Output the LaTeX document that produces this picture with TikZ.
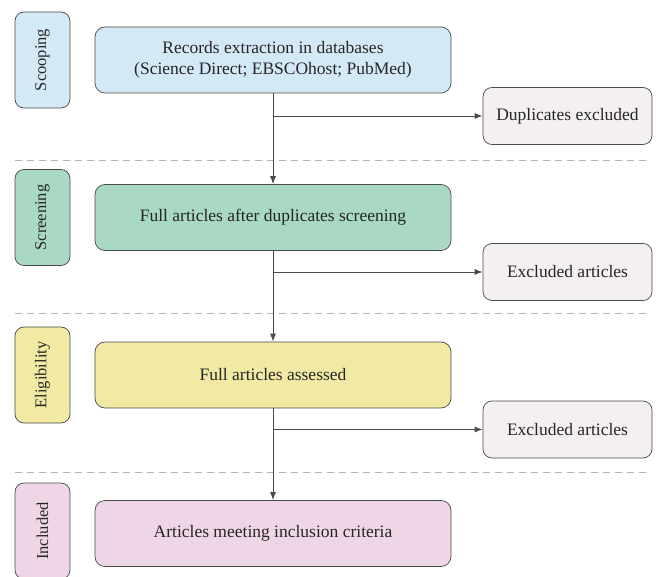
\documentclass[tikz,border=0pt]{standalone}
\usepackage{fontspec}
\setmainfont{Liberation Serif}
\usetikzlibrary{arrows.meta}
\definecolor{cblue}{HTML}{D4E9F6}
\definecolor{cgreen}{HTML}{A9D8C3}
\definecolor{cyellow}{HTML}{F1E9A4}
\definecolor{cpink}{HTML}{EFD6E6}
\definecolor{cgray}{HTML}{F3F0EF}
\definecolor{cline}{HTML}{4A4A4A}
\definecolor{cdash}{HTML}{B5B5B5}
\tikzset{
  mainbox/.style={draw=cline, line width=0.7pt, rounded corners=10pt, minimum width=356pt, minimum height=66pt, align=center, font=\fontsize{17.5}{21}\selectfont, text=black!85},
  sidebox/.style={draw=cline, line width=0.7pt, rounded corners=9pt, minimum width=55pt, minimum height=96pt},
  sidetext/.style={rotate=90, font=\fontsize{16.5}{19}\selectfont, text=black!85},
  exbox/.style={draw=cline, line width=0.7pt, rounded corners=9pt, fill=cgray, minimum width=169pt, minimum height=57pt, font=\fontsize{17.5}{21}\selectfont, text=black!85},
  conn/.style={draw=cline, line width=0.9pt},
  arr/.style={conn, -{Latex[length=8pt,width=6pt]}},
  sep/.style={draw=cdash, line width=0.8pt, dash pattern=on 7pt off 5pt}
}
\begin{document}
\begin{tikzpicture}[x=1pt,y=-1pt]
\useasboundingbox[fill=white] (0,0) rectangle (656,577);
% separators
\draw[sep] (15,160) -- (648,160);
\draw[sep] (15,313) -- (648,313);
\draw[sep] (15,472) -- (648,472);
% side labels
\node[sidebox, fill=cblue] (s1) at (42.5,60) {};
\node[sidetext] at (s1.center) {Scooping};
\node[sidebox, fill=cgreen] (s2) at (42.5,217.5) {};
\node[sidetext] at (s2.center) {Screening};
\node[sidebox, fill=cyellow] (s3) at (42.5,375) {};
\node[sidetext] at (s3.center) {Eligibility};
\node[sidebox, fill=cpink] (s4) at (42.5,531) {};
\node[sidetext] at (s4.center) {Included};
% main boxes
\node[mainbox, fill=cblue] (b1) at (273,60) {Records extraction in databases\\(Science Direct; EBSCOhost; PubMed)};
\node[mainbox, fill=cgreen] (b2) at (273,217.5) {Full articles after duplicates screening};
\node[mainbox, fill=cyellow] (b3) at (273,375) {Full articles assessed};
\node[mainbox, fill=cpink] (b4) at (273,533.5) {Articles meeting inclusion criteria};
% exclusion boxes
\node[exbox] (e1) at (567.5,116) {Duplicates excluded};
\node[exbox] (e2) at (567.5,272) {Excluded articles};
\node[exbox] (e3) at (567.5,429.5) {Excluded articles};
% connectors
\draw[arr] (b1.south) -- (b2.north);
\draw[arr] (b2.south) -- (b3.north);
\draw[arr] (b3.south) -- (b4.north);
\coordinate (j1) at (273,116);
\coordinate (j2) at (273,272);
\coordinate (j3) at (273,429.5);
\draw[arr] (j1) -- (e1.west);
\draw[arr] (j2) -- (e2.west);
\draw[arr] (j3) -- (e3.west);
\end{tikzpicture}
\end{document}
